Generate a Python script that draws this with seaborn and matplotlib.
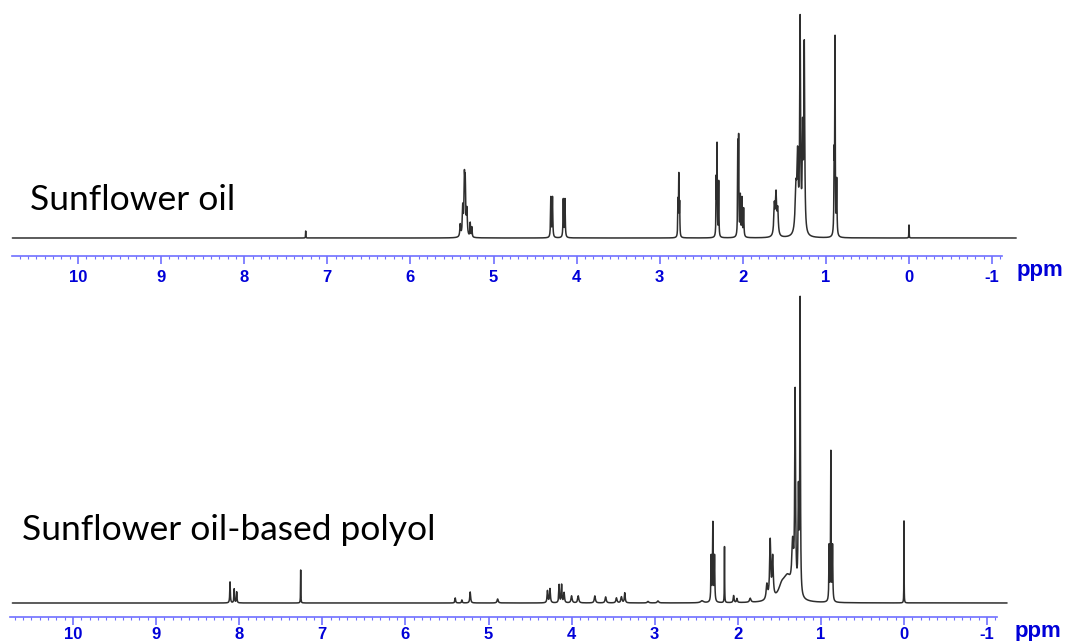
import numpy as np
import pandas as pd
import seaborn as sns
import matplotlib.pyplot as plt
from matplotlib.ticker import FixedLocator

# Peak list: ppm, height (px), half width (ppm)
oil_ppm = [7.26, 5.40, 5.37, 5.35, 5.34, 5.32, 5.28, 5.26, 4.31, 4.29, 4.16, 4.14,
           2.78, 2.77, 2.76, 2.32, 2.31, 2.29, 2.06, 2.05, 2.03, 2.01, 1.99,
           1.62, 1.60, 1.58, 1.36, 1.34, 1.31, 1.28, 1.26, 0.90, 0.89, 0.87, 0.0]
oil_height = [7, 12, 28, 52, 47, 25, 14, 10, 40, 40, 38, 38,
              35, 60, 32, 55, 90, 55, 90, 95, 40, 38, 28,
              30, 40, 25, 45, 70, 210, 95, 186, 76, 190, 55, 13]
oil_width = [0.002, 0.006, 0.006, 0.006, 0.006, 0.006, 0.004, 0.004, 0.004, 0.004, 0.004, 0.004,
             0.003, 0.003, 0.003, 0.003, 0.003, 0.003, 0.003, 0.003, 0.004, 0.004, 0.004,
             0.008, 0.008, 0.008, 0.012, 0.008, 0.006, 0.006, 0.006, 0.004, 0.003, 0.004, 0.002]

# Peak list
polyol_ppm = [8.11, 8.06, 8.03, 7.26, 5.40, 5.32, 5.22, 4.89, 4.29, 4.26, 4.15, 4.12, 4.09,
              4.00, 3.92, 3.72, 3.59, 3.46, 3.40, 3.36, 3.08, 2.96, 2.43,
              2.32, 2.30, 2.28, 2.16, 2.05, 2.01, 1.85, 1.65, 1.61, 1.58, 1.47, 1.40,
              1.34, 1.31, 1.27, 1.25, 0.90, 0.88, 0.86, 0.0]
polyol_height = [21, 14, 11, 33, 5, 3, 11, 4, 12, 14, 18, 18, 10,
                 7, 7, 7, 6, 5, 6, 10, 1.5, 2, 2,
                 45, 78, 45, 56, 7, 4, 4, 15, 58, 40, 12, 22,
                 45, 198, 100, 292, 55, 148, 55, 82]
polyol_width = [0.004, 0.004, 0.004, 0.002, 0.005, 0.005, 0.006, 0.008, 0.006, 0.006, 0.005, 0.005, 0.006,
                0.008, 0.008, 0.008, 0.008, 0.008, 0.008, 0.006, 0.01, 0.01, 0.02,
                0.004, 0.004, 0.004, 0.002, 0.006, 0.006, 0.01, 0.01, 0.008, 0.008, 0.05, 0.06,
                0.012, 0.006, 0.006, 0.004, 0.004, 0.003, 0.004, 0.0015]

major_ticks = list(range(-1, 11))
tick_labels = [str(t) for t in major_ticks]


def build_spectrum(ppm, height, width, lo, hi):
    # sum of lorentzian lines on a fine ppm grid
    x = np.arange(lo, hi, 0.0005)
    y = np.zeros_like(x)
    for p, h, w in zip(ppm, height, width):
        y += h / (1 + ((x - p) / w) ** 2)
    return pd.DataFrame({'ppm': x, 'intensity': y})


sns.set_style('white')
plt.rcParams['font.family'] = ['Liberation Sans', 'DejaVu Sans']
plt.rcParams['axes.unicode_minus'] = False

W, H = 1069, 641
fig = plt.figure(figsize=(W / 100, H / 100), dpi=100)

axis_blue = '#6f6fff'
label_blue = '#0000d8'


def setup_panel(ax, df, zero_px, spine_bounds, ylim, pad):
    sns.lineplot(data=df, x='ppm', y='intensity', ax=ax, color='#2e2e2e',
                 linewidth=1.1, estimator=None, sort=False)
    ax.set_xlim(zero_px / 83.1, (zero_px - W) / 83.1)
    ax.set_ylim(*ylim)
    for s in ['left', 'right', 'top']:
        ax.spines[s].set_visible(False)
    ax.spines['bottom'].set_color(axis_blue)
    ax.spines['bottom'].set_linewidth(1.2)
    ax.spines['bottom'].set_bounds(*spine_bounds)
    ax.xaxis.set_major_locator(FixedLocator(major_ticks))
    ax.set_xticklabels(tick_labels)
    ax.xaxis.set_minor_locator(FixedLocator(np.round(np.arange(-1.1, 10.75, 0.1), 2)))
    ax.tick_params(axis='x', which='major', bottom=True, direction='out', length=6,
                   width=1.2, color=axis_blue, labelcolor=label_blue, labelsize=12, pad=pad)
    ax.tick_params(axis='x', which='minor', bottom=True, direction='out', length=2.2,
                   width=0.8, color=axis_blue)
    for lab in ax.get_xticklabels():
        lab.set_fontweight('bold')
    ax.set_yticks([])
    ax.set_xlabel('')
    ax.set_ylabel('')
    ax.patch.set_alpha(0)


# top panel: baseline at 238 px, axis line at 256 px
ax_top = fig.add_axes([0, (H - 256) / H, 1, (256 - 10) / H])
df_oil = build_spectrum(oil_ppm, oil_height, oil_width, -1.29, 10.79)
setup_panel(ax_top, df_oil, 909, (10.79, -1.12), (-18, 228), 4)

# bottom panel: baseline at 603 px, axis line at 617 px
ax_bot = fig.add_axes([0, (H - 617) / H, 1, (617 - 294) / H])
df_polyol = build_spectrum(polyol_ppm, polyol_height, polyol_width, -1.24, 10.73)
setup_panel(ax_bot, df_polyol, 904, (10.76, -1.12), (-14, 309), 1)

fig.text(1040 / W, 1 - 271 / H, 'ppm', ha='center', va='center', fontsize=16,
         fontweight='bold', color=label_blue)
fig.text(1038 / W, 1 - 632 / H, 'ppm', ha='center', va='center', fontsize=16,
         fontweight='bold', color=label_blue)

fig.text(30 / W, 1 - 200 / H, 'Sunflower oil', ha='left', va='center', fontsize=25.5,
         family=['Lato', 'DejaVu Sans'], color='black')
fig.text(22 / W, 1 - 530 / H, 'Sunflower oil-based polyol', ha='left', va='center',
         fontsize=25.5, family=['Lato', 'DejaVu Sans'], color='black')

fig.savefig('out.png', dpi=100)
